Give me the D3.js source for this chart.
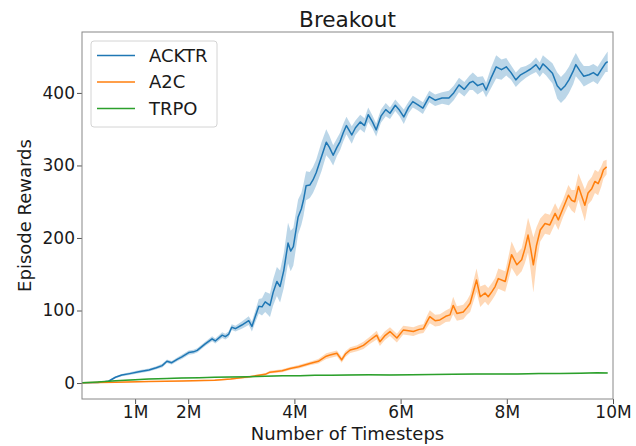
<!DOCTYPE html>
<html>
<head>
<meta charset="utf-8">
<script src="https://cdn.jsdelivr.net/npm/d3@7"></script>
<style>
    body { margin: 0; background: #fff; }
    text { font-family: "DejaVu Sans", sans-serif; fill: #1a1a1a; }
</style>
</head>
<body>
<svg id="viz_rewards"></svg>
<script>
// timesteps are in millions
var steps_acktr = [0, 0.3, 0.5, 0.63, 0.75, 0.9, 1.07, 1.26, 1.4, 1.51, 1.6, 1.69, 1.8, 1.88, 2.01, 2.1, 2.17, 2.32, 2.45, 2.51,
    2.64, 2.7, 2.76, 2.82, 2.89, 3.01, 3.14, 3.2, 3.26, 3.33, 3.39, 3.45, 3.54, 3.6, 3.67, 3.73, 3.8, 3.88, 3.93, 3.98,
    4.07, 4.13, 4.17, 4.22, 4.29, 4.35, 4.41, 4.51, 4.6, 4.66, 4.73, 4.8, 4.86, 4.92, 4.98, 5.08, 5.15, 5.24, 5.32, 5.39,
    5.47, 5.54, 5.63, 5.72, 5.8, 5.9, 5.98, 6.06, 6.15, 6.23, 6.32, 6.42, 6.54, 6.65, 6.78, 6.91, 7.0, 7.1, 7.2, 7.3,
    7.36, 7.45, 7.55, 7.61, 7.7, 7.8, 7.9, 7.99, 8.08, 8.17, 8.26, 8.36, 8.45, 8.55, 8.62, 8.68, 8.74, 8.86, 8.95, 9.02,
    9.1, 9.17, 9.25, 9.3, 9.38, 9.45, 9.55, 9.63, 9.71, 9.78, 9.86, 9.9];
var reward_acktr = [0.5, 0.8, 2.5, 8, 11, 13, 15.5, 18, 21, 24, 30, 28, 33, 36, 42, 43, 45, 54, 61, 58,
    66, 64, 67, 77, 75, 80, 86, 78, 91, 106, 105, 112, 107, 125, 140, 133, 155, 193, 182, 188,
    229, 240, 252, 272, 273, 280, 290, 312, 332, 325, 314, 325, 333, 345, 355, 342, 352, 360, 355, 370,
    360, 349, 368, 377, 372, 383, 376, 367, 380, 388, 384, 379, 395, 390, 393, 393, 400, 411, 405, 414,
    416, 410, 413, 404, 420, 436, 432, 436, 428, 418, 425, 429, 433, 439, 432, 440, 436, 427, 410, 404,
    410, 418, 430, 439, 430, 423, 425, 428, 424, 432, 441, 443];
var spread_acktr = [0.5, 0.5, 1, 1.5, 1.5, 2, 2, 2, 2, 2.5, 2.5, 2.5, 2.5, 3, 3, 3, 3, 3, 3.5, 3.5,
    4, 4, 4, 4, 4, 5, 6, 7, 8, 10, 12, 14, 16, 18, 20, 22, 24, 28, 28, 26,
    24, 22, 22, 20, 18, 18, 18, 20, 18, 16, 14, 12, 12, 12, 12, 12, 10, 10, 10, 10,
    9, 9, 9, 9, 8, 8, 8, 10, 8, 8, 8, 8, 8, 8, 8, 10, 10, 10, 10, 10,
    12, 12, 10, 10, 14, 16, 14, 12, 10, 10, 10, 8, 8, 10, 10, 12, 12, 14, 18, 18,
    18, 18, 18, 16, 14, 14, 12, 12, 12, 12, 12, 14];

var steps_a2c = [0, 0.63, 1.26, 1.88, 2.5, 2.8, 3.14, 3.45, 3.54, 3.77, 3.92, 4.08, 4.29, 4.45, 4.6, 4.67, 4.8, 4.89, 4.96, 5.05,
    5.18, 5.3, 5.42, 5.55, 5.61, 5.7, 5.8, 5.93, 6.05, 6.15, 6.24, 6.35, 6.43, 6.5, 6.55, 6.65, 6.74, 6.85, 6.93, 6.99,
    7.06, 7.18, 7.25, 7.31, 7.43, 7.5, 7.59, 7.65, 7.72, 7.78, 7.84, 7.97, 8.03, 8.09, 8.19, 8.28, 8.34, 8.4, 8.45, 8.5,
    8.56, 8.63, 8.72, 8.81, 8.91, 8.97, 9.06, 9.16, 9.22, 9.28, 9.35, 9.41, 9.47, 9.53, 9.6, 9.66, 9.72, 9.78, 9.82, 9.88];
var reward_a2c = [0.5, 1, 2, 2.8, 4, 5.5, 8.5, 12, 15, 17, 20, 22.5, 27, 30, 37, 38.6, 41, 32, 40, 45.5,
    48, 52, 59, 66, 57, 65, 71, 62, 73, 72, 71, 74, 75, 85, 91.5, 86, 87, 92, 94, 107,
    96, 98, 104, 110, 142, 119, 124, 119, 126, 133, 144, 140, 158, 177, 163, 170, 185, 204, 185, 163,
    190, 211, 220, 218, 234, 225, 241, 259, 252, 250, 271, 258, 245, 262, 268, 278, 275, 285, 294, 298];
var spread_a2c = [0.3, 0.5, 0.5, 0.8, 1, 1, 1.5, 1.5, 2, 2, 2, 2.5, 2.5, 3, 4, 4, 4, 4, 4, 4,
    4, 5, 5, 6, 6, 6, 6, 6, 6, 6, 6, 6, 6, 8, 9, 8, 8, 8, 9, 12,
    10, 10, 10, 12, 16, 14, 12, 12, 12, 12, 14, 14, 16, 18, 16, 16, 20, 24, 30, 38,
    25, 16, 14, 14, 14, 14, 12, 14, 14, 16, 18, 20, 22, 16, 16, 16, 16, 14, 12, 10];

var steps_trpo = [0, 0.3, 0.63, 1.0, 1.26, 1.6, 1.88, 2.2, 2.5, 2.8, 3.14, 3.45, 3.77, 4.1, 4.39, 4.7, 5.0, 5.4, 5.8, 6.2,
    6.6, 7.0, 7.4, 7.8, 8.2, 8.6, 9.0, 9.4, 9.7, 9.9];
var reward_trpo = [0.5, 1.5, 3, 4.5, 5.5, 6.3, 7, 7.4, 8, 8.3, 8.7, 9.3, 10, 10.2, 10.6, 10.8, 11, 11.3, 11.2, 11.6,
    11.8, 12, 12.3, 12.5, 12.6, 13, 13.2, 13.6, 14.2, 14];
var spread_trpo = [0.3, 0.4, 0.5, 0.6, 0.6, 0.7, 0.7, 0.7, 0.8, 0.8, 0.8, 0.8, 0.8, 0.8, 0.8, 0.8, 0.8, 0.8, 0.8, 0.8,
    0.8, 0.8, 0.8, 0.8, 0.8, 0.8, 0.8, 0.8, 0.8, 0.8];

var series_names = ["ACKTR", "A2C", "TRPO"];
var series_colors = ["#1f77b4", "#ff7f0e", "#2ca02c"];
var x_ticks = [1, 2, 4, 6, 8, 10];
var x_tick_labels = ["1M", "2M", "4M", "6M", "8M", "10M"];
var y_ticks = [0, 100, 200, 300, 400];

var margin = {
        "top": 32,
        "right": 23,
        "bottom": 47,
        "left": 82
    },
    width = 636 - margin.left - margin.right,
    height = 446 - margin.top - margin.bottom,
    font_size = 17;

function zip(steps, reward, spread) {
    return steps.map(function(s, i) {
        return {"step": s, "reward": reward[i], "spread": spread[i]};
    });
}

var series = [
    {"name": series_names[0], "color": series_colors[0], "values": zip(steps_acktr, reward_acktr, spread_acktr)},
    {"name": series_names[1], "color": series_colors[1], "values": zip(steps_a2c, reward_a2c, spread_a2c)},
    {"name": series_names[2], "color": series_colors[2], "values": zip(steps_trpo, reward_trpo, spread_trpo)}
];

var x = d3.scaleLinear()
    .domain([0, 10])
    .range([0, width]);

var y = d3.scaleLinear()
    .domain([-22, 484])
    .range([height, 0]);

var svg = d3.select("svg#viz_rewards")
        .attr("width", 636)
        .attr("height", 446)
    .append("g")
        .attr("transform", "translate(" + [margin.left, margin.top] + ")");

var area = d3.area()
    .x(function(d) { return x(d.step); })
    .y0(function(d) { return y(d.reward - d.spread); })
    .y1(function(d) { return y(d.reward + d.spread); });

var line = d3.line()
    .x(function(d) { return x(d.step); })
    .y(function(d) { return y(d.reward); });

var series_g = svg.selectAll("g.series")
    .data(series)
    .enter()
    .append("g")
        .attr("class", "series");

series_g
    .append("path")
        .attr("class", "band")
        .attr("d", function(d) { return area(d.values); })
        .style("fill", function(d) { return d.color; })
        .style("fill-opacity", 0.3);

series_g
    .append("path")
        .attr("class", "line")
        .attr("d", function(d) { return line(d.values); })
        .style("fill", "none")
        .style("stroke", function(d) { return d.color; })
        .style("stroke-width", 1.5)
        .style("stroke-linejoin", "round");

var x_axis = svg.append("g")
    .attr("transform", "translate(0," + height + ")")
    .call(d3.axisBottom(x)
        .tickValues(x_ticks)
        .tickFormat(function(d, i) { return x_tick_labels[i]; })
        .tickSize(5)
        .tickPadding(2));

var y_axis = svg.append("g")
    .call(d3.axisLeft(y)
        .tickValues(y_ticks)
        .tickSize(5)
        .tickPadding(2));

svg.selectAll(".domain").remove();
svg.selectAll(".tick line").style("stroke", "#555");
svg.selectAll(".tick text")
    .style("font-size", font_size)
    .style("font-family", "DejaVu Sans, sans-serif")
    .style("fill", "#1a1a1a");

svg.append("rect")
    .attr("width", width)
    .attr("height", height)
    .style("fill", "none")
    .style("stroke", "#888")
    .style("stroke-width", 1);

svg.append("text")
    .attr("x", width / 2)
    .attr("y", -5)
    .attr("text-anchor", "middle")
    .style("font-size", 21.6)
    .text("Breakout");

svg.append("text")
    .attr("x", width / 2)
    .attr("y", height + 41)
    .attr("text-anchor", "middle")
    .style("font-size", 18)
    .text("Number of Timesteps");

svg.append("text")
    .attr("transform", "translate(" + [31 - margin.left, height / 2] + ") rotate(-90)")
    .attr("text-anchor", "middle")
    .style("font-size", 18)
    .text("Episode Rewards");

var legend_g = svg.append("g")
    .attr("class", "legend")
    .attr("transform", "translate(" + [9, 9] + ")");

legend_g.append("rect")
    .attr("width", 126)
    .attr("height", 86)
    .attr("rx", 3)
    .style("fill", "#fff")
    .style("fill-opacity", 0.8)
    .style("stroke", "#d4d4d4");

var legend_label_g = legend_g.selectAll("g.legend_label")
    .data(series)
    .enter()
    .append("g")
        .attr("class", "legend_label")
        .attr("transform", function(d, i) {
            return "translate(" + [0, 14.5 + 26.5 * i] + ")";
        });

legend_label_g.append("line")
    .attr("x1", 6)
    .attr("x2", 44)
    .style("stroke", function(d) { return d.color; })
    .style("stroke-width", 1.5);

legend_label_g.append("text")
    .attr("x", 58)
    .attr("dy", "0.36em")
    .style("font-size", 18)
    .text(function(d) { return d.name; });
</script>
</body>
</html>
